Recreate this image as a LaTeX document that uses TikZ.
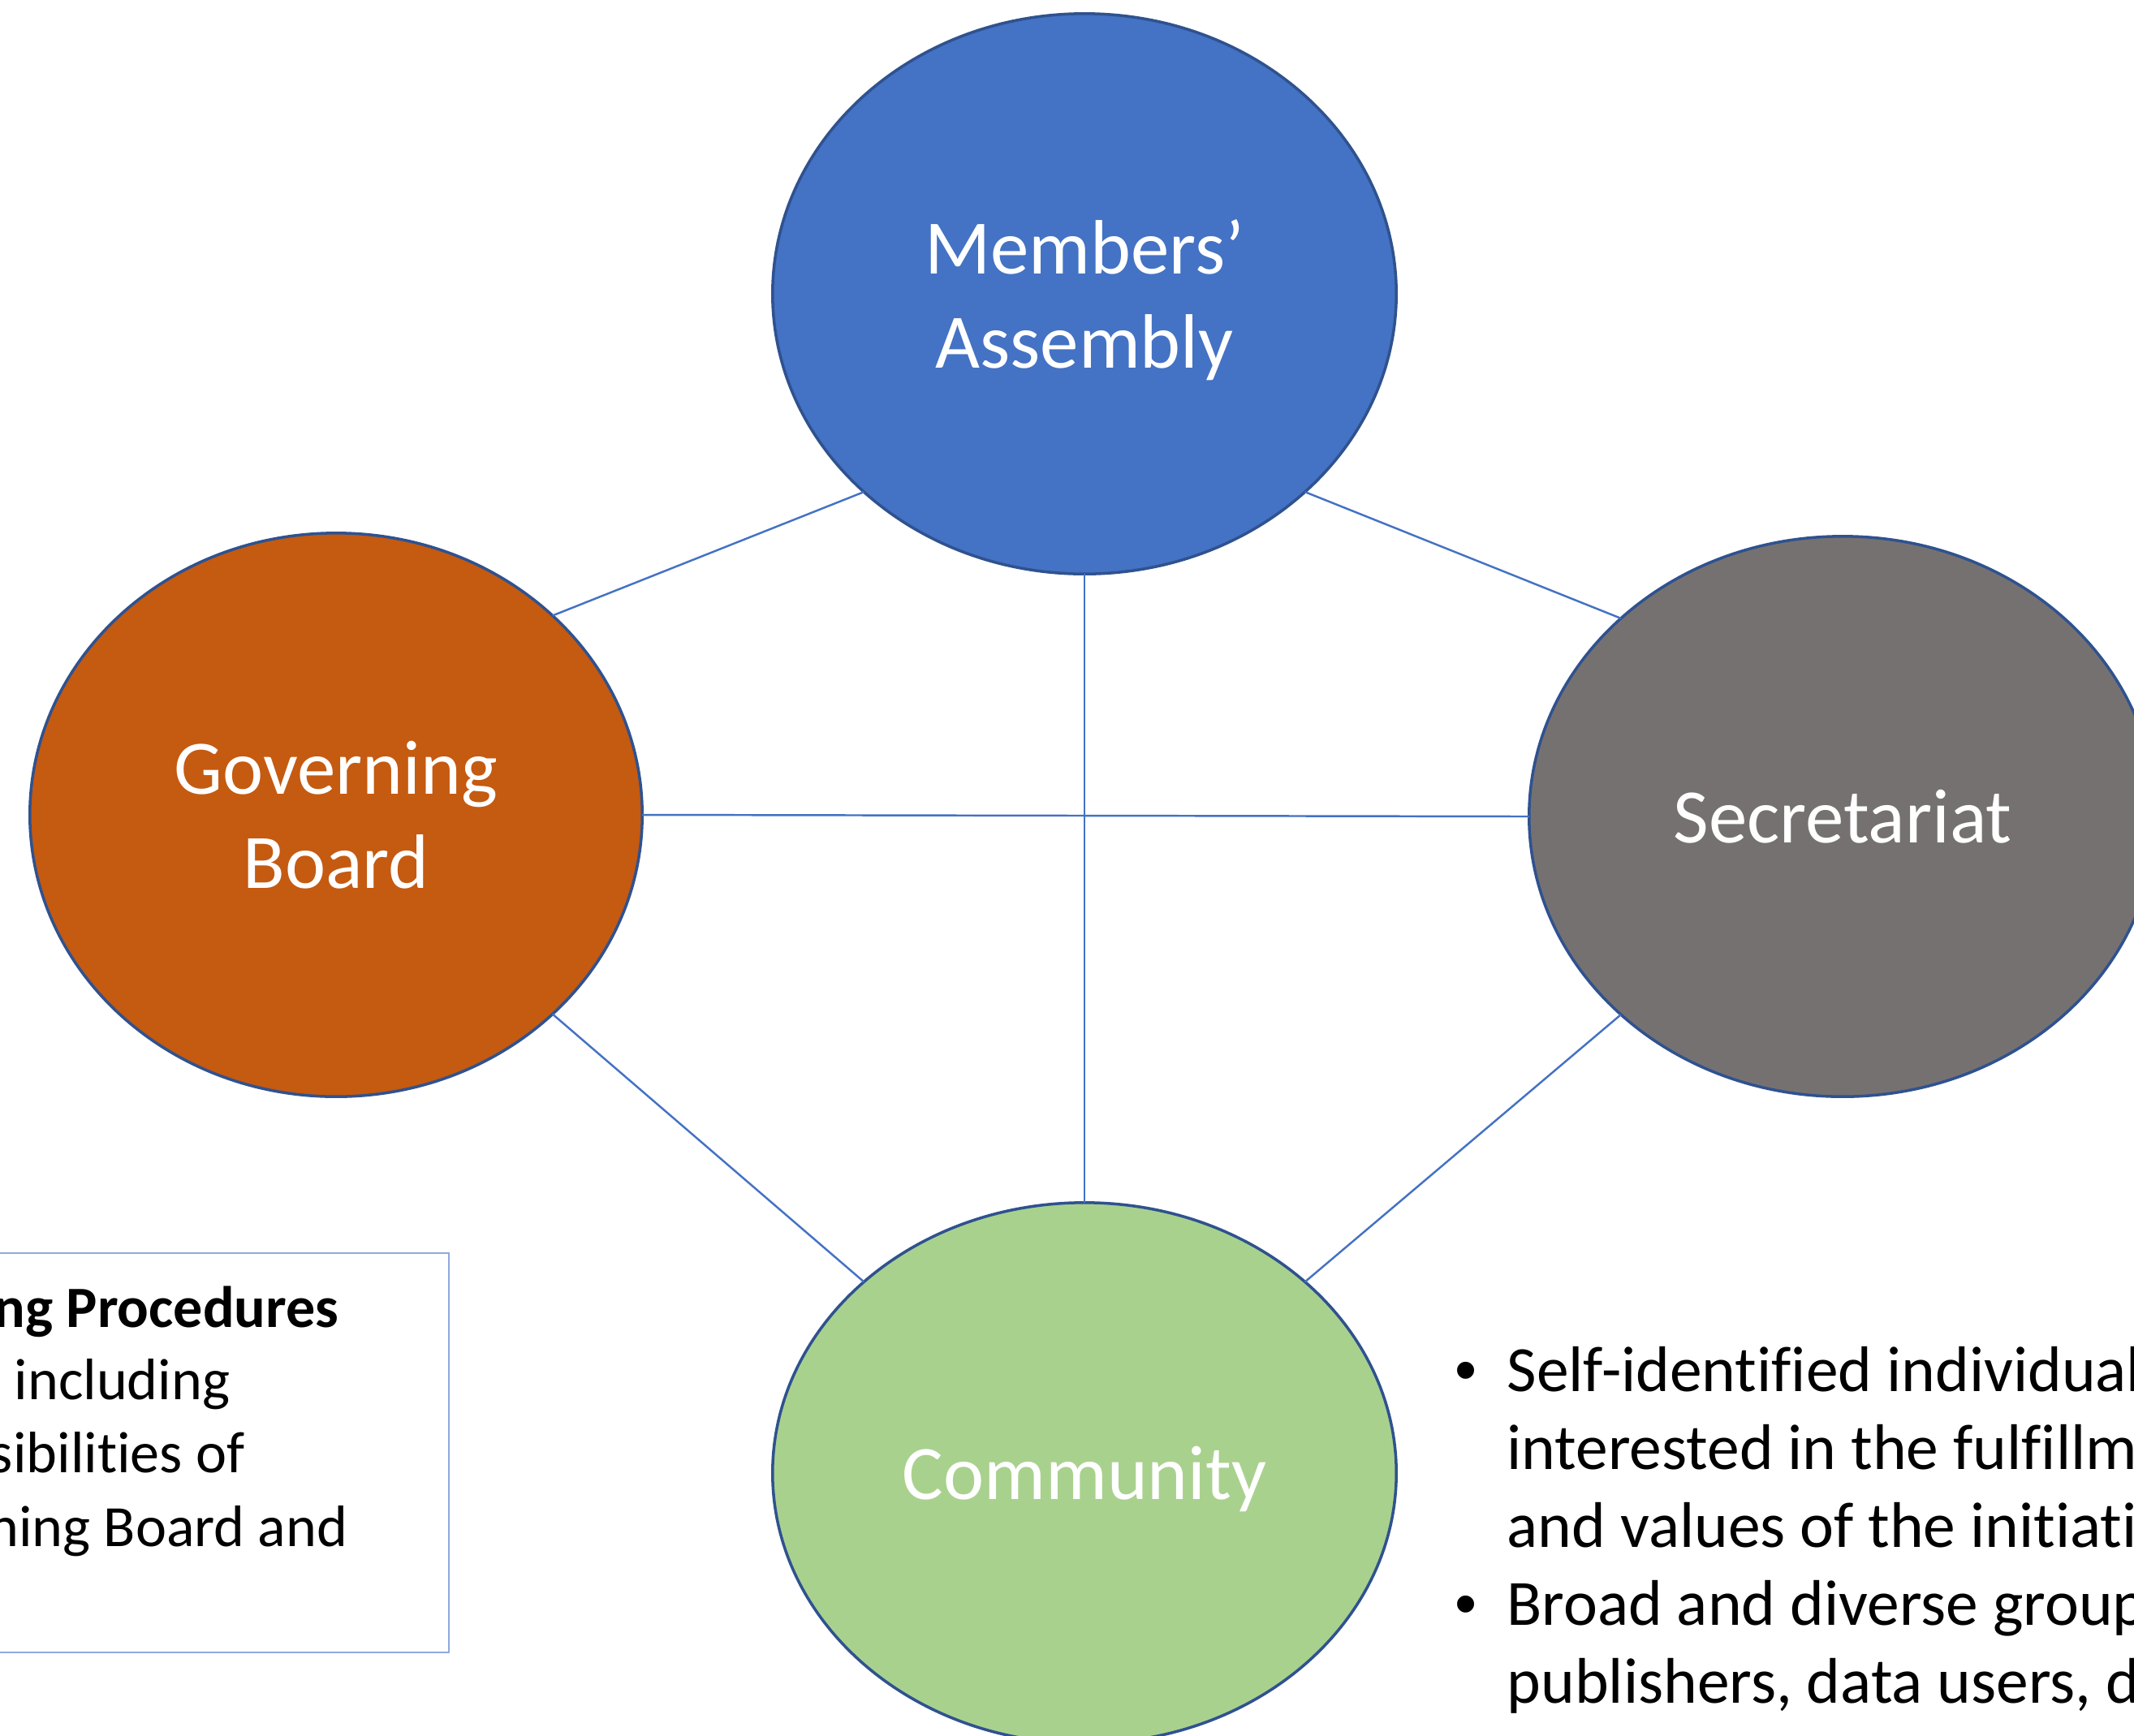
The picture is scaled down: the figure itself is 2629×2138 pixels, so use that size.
\documentclass[tikz,border=0pt]{standalone}
\usepackage{fontspec}
\setmainfont{Carlito}[Ligatures={NoCommon,NoContextual}, RawFeature={-liga;-clig;-dlig}]
\newfontfamily\bulletfont{Liberation Sans}
\usepackage{tikz}
\usetikzlibrary{shapes.geometric}

\definecolor{assembly}{HTML}{4472C4}
\definecolor{board}{HTML}{C55A11}
\definecolor{secretariat}{HTML}{767171}
\definecolor{community}{HTML}{A9D18E}
\definecolor{rim}{HTML}{2F528F}
\definecolor{boxline}{HTML}{8FAADC}

\tikzset{
    body/.style={ellipse, draw=rim, line width=1pt, inner sep=0pt, outer sep=0pt,
        text=white, align=center, text depth=0pt, font=\fontsize{27}{33}\selectfont},
    link/.style={draw=assembly, line width=0.7pt},
    rule/.style={font=\fontsize{20.5}{25}\selectfont, inner sep=0pt, anchor=base east},
    item/.style={font=\fontsize{22.6}{27}\selectfont, inner sep=0pt, anchor=base west}
}

\begin{document}
\begin{tikzpicture}[x=0.01cm, y=-0.01cm]
    \useasboundingbox (0,0) rectangle (2629,2138);
    \clip (0,0) rectangle (2629,2138);

    \node[body, fill=assembly, minimum width=7.68cm, minimum height=6.9cm] (ma) at (1336,362) {Members’\\Assembly};
    \node[body, fill=board, minimum width=7.54cm, minimum height=6.94cm] (gb) at (414,1004) {Governing\\Board};
    \node[body, fill=secretariat, minimum width=7.72cm, minimum height=6.9cm] (sec) at (2270,1006) {Secretariat};
    \node[body, fill=community, minimum width=7.68cm, minimum height=6.66cm] (com) at (1336,1815) {Community};

    \draw[link] (ma.south west) -- (gb.north east);
    \draw[link] (ma.south east) -- (sec.north west);
    \draw[link] (gb.south east) -- (com.north west);
    \draw[link] (sec.south west) -- (com.north east);
    \draw[link] (ma.south) -- (com.north);
    \draw[link] (gb.east) -- (sec.west);

    \draw[boxline, line width=0.7pt] (-10,1544) rectangle (553,2036);
    \node[rule, font=\fontsize{20.5}{25}\selectfont\bfseries] (r1) at (418,1635) {ng Procedures};
    \node[rule] (r2) at (284,1724) {including};
    \node[rule] (r3) at (302,1814) {sibilities of};
    \node[rule] (r4) at (429,1905) {ning Board and};

    \foreach \txt [count=\i] in {Self-identified individuals, interested in the fulfillment,
        and values of the initiative, Broad and diverse groups, {publishers, data users, d}}
        \node[item] (line\i) at (1856,1618+96*\i) {\txt};
    \node[item, anchor=base, font=\fontsize{22}{27}\bulletfont] (dot1) at (1806,1714) {•};
    \node[item, anchor=base, font=\fontsize{22}{27}\bulletfont] (dot2) at (1806,2002) {•};
\end{tikzpicture}
\end{document}
